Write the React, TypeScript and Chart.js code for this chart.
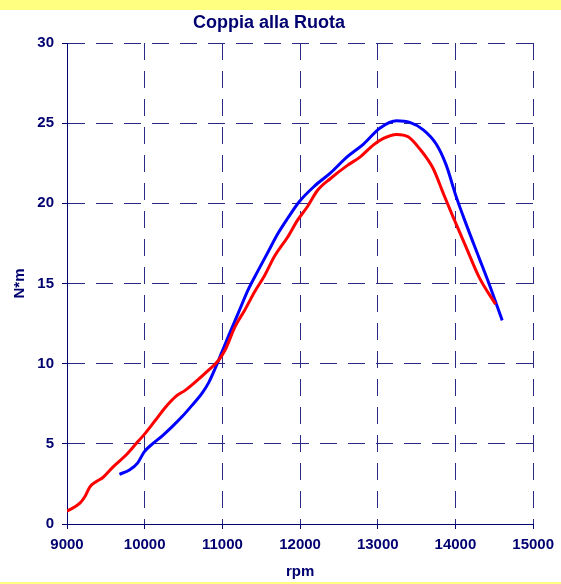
import React, { useEffect, useRef } from "react";
import { Chart, registerables } from "chart.js";

Chart.register(...registerables);

const chartTitle = "Coppia alla Ruota";
const xTitle = "rpm";
const yTitle = "N*m";

const redRpm = [
  9000, 9166, 9229, 9293, 9378, 9462, 9590, 9760, 9888, 10006, 10143, 10270, 10398, 10525, 10650,
  10822, 10949, 11035, 11162, 11289, 11417, 11544, 11671, 11841, 11968, 12096, 12223, 12392, 12605,
  12775, 12945, 13073, 13242, 13391, 13540, 13710, 13837, 13965, 14134, 14304, 14516,
];
const redTorque = [
  0.8, 1.3, 1.7, 2.3, 2.65, 2.9, 3.55, 4.3, 5.0, 5.65, 6.5, 7.3, 7.95, 8.35, 8.85,
  9.6, 10.2, 10.85, 12.3, 13.35, 14.5, 15.5, 16.7, 17.9, 18.95, 19.8, 20.8, 21.55, 22.35,
  22.9, 23.65, 24.05, 24.3, 24.15, 23.4, 22.2, 20.7, 19.2, 17.3, 15.4, 13.7,
];

const blueRpm = [
  9675, 9803, 9908, 9994, 10100, 10227, 10354, 10482, 10609, 10737, 10822, 10907, 10992, 11077,
  11204, 11331, 11459, 11586, 11713, 11841, 11989, 12180, 12392, 12605, 12817, 13030, 13242, 13412,
  13582, 13752, 13880, 14007, 14134, 14304, 14431, 14602,
];
const blueTorque = [
  3.1, 3.37, 3.8, 4.5, 5.0, 5.5, 6.07, 6.7, 7.4, 8.15, 8.8, 9.7, 10.7, 11.7,
  13.15, 14.6, 15.8, 16.95, 18.1, 19.07, 20.1, 21.05, 21.9, 22.9, 23.7, 24.7, 25.15, 25.05,
  24.6, 23.7, 22.4, 20.45, 18.75, 16.6, 15.0, 12.7,
];

const navy = "#000070";
const gridColor = "#2a2a85";
const fontFamily = "'Liberation Sans', Arial, sans-serif";

const bgPlugin = {
  id: "bgBands",
  beforeDraw(chart: any) {
    const { ctx, width, height } = chart;
    ctx.save();
    ctx.fillStyle = "#ffffff";
    ctx.fillRect(0, 0, width, height);
    ctx.fillStyle = "#ffff80";
    ctx.fillRect(0, 0, width, 10);
    ctx.fillRect(0, 582, width, height - 582);
    ctx.restore();
  },
};

export default function App() {
  const ref = useRef<HTMLCanvasElement | null>(null);

  useEffect(() => {
    if (!ref.current) return;
    const toPts = (xs: number[], ys: number[]) => xs.map((x, i) => ({ x, y: ys[i] }));
    const chart = new Chart(ref.current, {
      type: "line",
      data: {
        datasets: [
          {
            label: "A",
            data: toPts(redRpm, redTorque),
            borderColor: "#ff0000",
            borderWidth: 3,
            pointRadius: 0,
            cubicInterpolationMode: "monotone",
            fill: false,
          },
          {
            label: "B",
            data: toPts(blueRpm, blueTorque),
            borderColor: "#0000ff",
            borderWidth: 3,
            pointRadius: 0,
            cubicInterpolationMode: "monotone",
            fill: false,
          },
        ],
      },
      options: {
        animation: false,
        responsive: false,
        layout: { padding: { left: 0, right: 23, top: 0, bottom: 0 } },
        plugins: {
          legend: { display: false },
          tooltip: { enabled: false },
          title: {
            display: true,
            text: chartTitle,
            color: navy,
            font: { family: fontFamily, size: 18, weight: "bold" },
            padding: { top: 12, bottom: 9.4 },
          },
        },
        scales: {
          x: {
            type: "linear",
            min: 9000,
            max: 15000,
            afterFit: (s: any) => {
              s.height = 60;
            },
            ticks: {
              stepSize: 1000,
              color: navy,
              padding: 7,
              maxRotation: 0,
              font: { family: fontFamily, size: 15, weight: "bold" },
              callback: (v: any) => String(v),
            },
            grid: { color: gridColor, lineWidth: 1, tickLength: 5, tickColor: navy },
            border: { display: true, color: navy, width: 1, dash: [17, 11] },
            title: {
              display: true,
              text: xTitle,
              color: navy,
              font: { family: fontFamily, size: 15, weight: "bold" },
              padding: { top: 0, bottom: 3 },
            },
          },
          y: {
            type: "linear",
            min: 0,
            max: 30,
            afterFit: (s: any) => {
              s.width = 67;
            },
            ticks: {
              stepSize: 5,
              color: navy,
              padding: 8,
              font: { family: fontFamily, size: 15, weight: "bold" },
              callback: (v: any) => String(v),
            },
            grid: { color: gridColor, lineWidth: 1, tickLength: 5, tickColor: navy },
            border: { display: true, color: navy, width: 1, dash: [17, 11] },
            title: {
              display: true,
              text: yTitle,
              color: navy,
              font: { family: fontFamily, size: 15, weight: "bold" },
              padding: { top: 11, bottom: 0 },
            },
          },
        },
      },
      plugins: [bgPlugin],
    } as any);
    return () => chart.destroy();
  }, []);

  return (
    <div style={{ position: "absolute", left: 0, top: 0, width: 561, height: 584 }}>
      <canvas ref={ref} width={561} height={584} style={{ width: 561, height: 584, display: "block" }} />
    </div>
  );
}
